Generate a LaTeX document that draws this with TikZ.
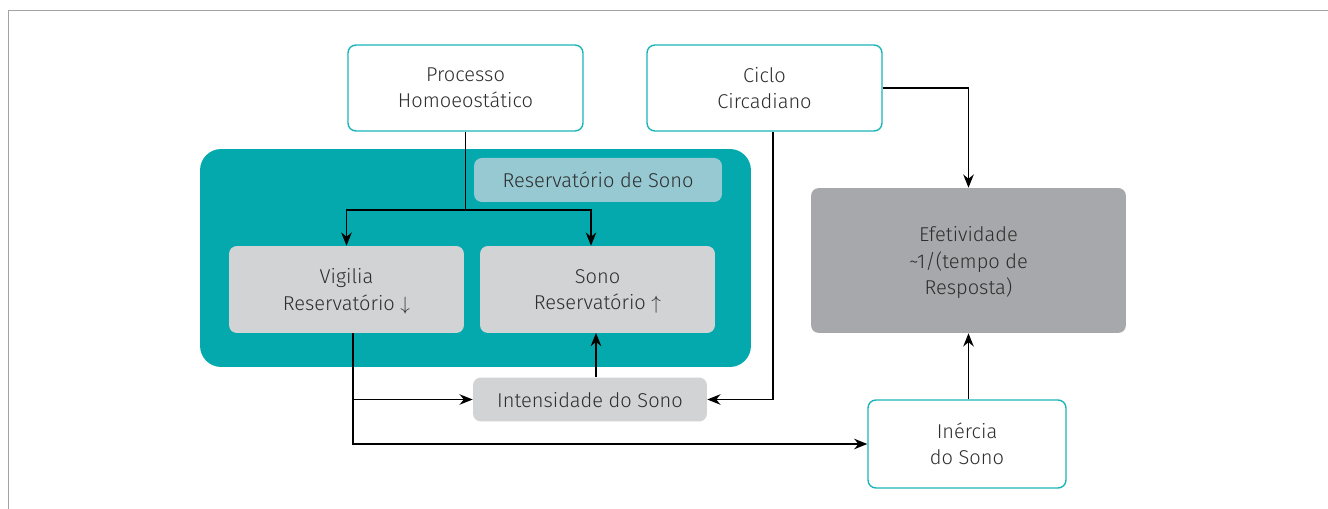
\documentclass[tikz,border=0pt]{standalone}
\usepackage{fontspec}
\setmainfont{Fira Sans Light}
\usepackage{tikz}
\usetikzlibrary{arrows.meta,positioning}

\definecolor{poolteal}{HTML}{03A9AD}
\definecolor{tealline}{HTML}{1CB4B8}
\definecolor{lightblue}{HTML}{97C9D3}
\definecolor{boxgray}{HTML}{D2D3D5}
\definecolor{darkgray}{HTML}{A7A8AB}
\definecolor{textgray}{HTML}{2E2E2E}
\definecolor{framegray}{HTML}{A3A3A3}

\begin{document}
\begin{tikzpicture}[x=0.02cm,y=-0.02cm,
    every node/.style={font=\fontsize{11.4}{14.9}\selectfont, text=textgray, align=center, inner sep=0pt, text depth=0pt},
    outlinebox/.style={draw=tealline, line width=0.8pt, rounded corners=4.5pt, fill=white,
        minimum width=4.7cm, minimum height=1.72cm},
    graybox/.style={fill=boxgray, rounded corners=4.5pt},
    link/.style={line width=0.7pt, -{Stealth[length=7.5pt,width=6pt]}}]
            \fill[white] (0,0) rectangle (1328,509);
            \useasboundingbox (0,0) rectangle (1328,509);
            \draw[framegray, line width=0.8pt] (8.5,509) -- (8.5,10.5) -- (1328,10.5);

            % sleep reservoir
            \node[fill=poolteal, rounded corners=12pt, minimum width=11.02cm, minimum height=4.36cm] (pool) at (475.5,258) {};
            \node[fill=lightblue, rounded corners=4.5pt, minimum width=4.96cm, minimum height=0.88cm] (resv) at (598,180) {Reservatório de Sono};
            \node[graybox, minimum width=4.7cm, minimum height=1.74cm] (vigilia) at (346.5,289.5) {Vigilia\\ Reservatório $\downarrow$};
            \node[graybox, minimum width=4.7cm, minimum height=1.74cm] (sono) at (597.5,289.5) {Sono\\ Reservatório $\uparrow$};

            \node[outlinebox] (homeo) at (465.5,88) {Processo\\ Homoeostático};
            \node[outlinebox] (ciclo) at (764.5,88) {Ciclo\\ Circadiano};
            \node[graybox, minimum width=4.68cm, minimum height=0.88cm] (inten) at (590,399.5) {Intensidade do Sono};
            \node[fill=darkgray, rounded corners=4.5pt, minimum width=6.3cm, minimum height=2.9cm] (efet) at (968.5,260.5) {Efetividade\\ \textasciitilde1/(tempo de\\ Resposta)};
            \node[outlinebox, minimum width=3.96cm, minimum height=1.76cm] (inercia) at (967,444) {Inércia\\ do Sono};

            % connectors
            \draw[line width=0.7pt] (homeo.south) -- (465.5,210) coordinate (split);
            \draw[link] (split) -| (vigilia.north);
            \draw[link] (split) -| ([xshift=-0.13cm]sono.north);
            \draw[link] (inten.north -| 596,0) -- (596,333);
            \coordinate (vout) at ([xshift=0.13cm]vigilia.south);
            \draw[link] (vout) |- (inercia.west);
            \draw[link] (vout |- inten.west) -- (inten.west);
            \draw[link] ([xshift=0.17cm]ciclo.south) |- (inten.east);
            \draw[link] (ciclo.east) -| (efet.north);
            \draw[link] (inercia.north -| efet.south) -- (efet.south);
\end{tikzpicture}
\end{document}
